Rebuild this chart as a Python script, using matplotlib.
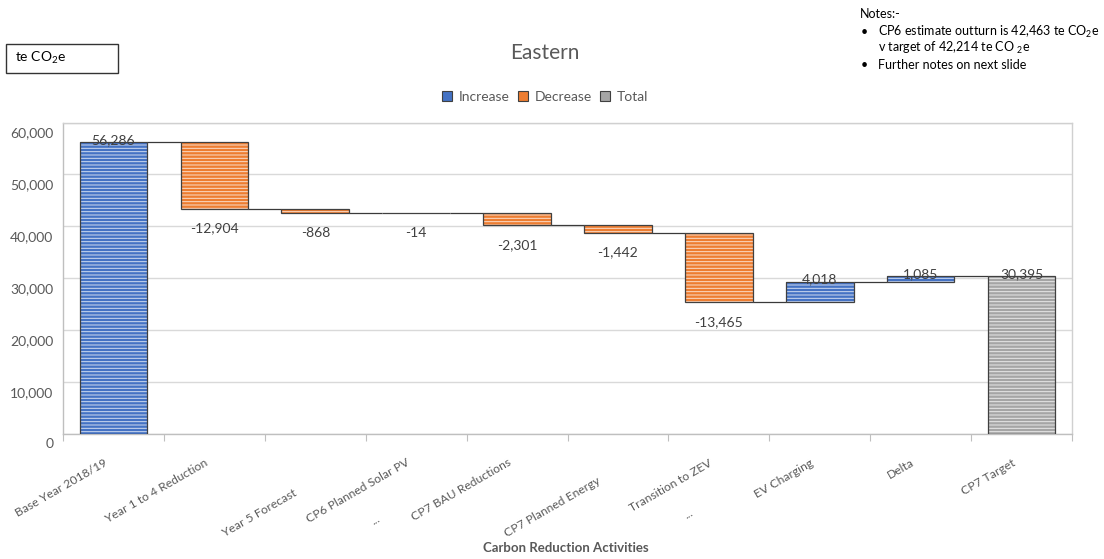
import matplotlib
matplotlib.use("Agg")
import matplotlib.pyplot as plt
from matplotlib.patches import Patch, Rectangle
from matplotlib.transforms import ScaledTranslation
import numpy as np

plt.rcParams['font.family'] = ['Lato', 'DejaVu Sans']
plt.rcParams['mathtext.fontset'] = 'custom'
plt.rcParams['mathtext.rm'] = 'Lato'
plt.rcParams['mathtext.it'] = 'Lato:italic'
plt.rcParams['mathtext.bf'] = 'Lato:bold'
plt.rcParams['hatch.linewidth'] = 0.7

# ---------------- data ----------------
categories = ["Base Year 2018/19", "Year 1 to 4 Reduction", "Year 5 Forecast",
              "CP6 Planned Solar PV\n...", "CP7 BAU Reductions", "CP7 Planned Energy",
              "Transition to ZEV\n...", "EV Charging", "Delta", "CP7 Target"]
base_value = 56286
changes = [-12904, -868, -14, -2301, -1442, -13465, 4018, 1085]
y_ticks = [0, 10000, 20000, 30000, 40000, 50000, 60000]
legend_labels = ["Increase", "Decrease", "Total"]

# ---------------- styles ----------------
fills = {"Increase": "#4472C4", "Decrease": "#ED7D31", "Total": "#A5A5A5"}
outline = "#404040"
text_grey = "#595959"
W = 0.67

W_PX, H_PX = 1104, 559
fig = plt.figure(figsize=(W_PX / 100, H_PX / 100), dpi=100)
ax = fig.add_axes([63 / W_PX, (H_PX - 433.5) / H_PX, (1072 - 63) / W_PX, (433.5 - 122.5) / H_PX])

# waterfall geometry from data
running = [base_value]
for c in changes:
    running.append(running[-1] + c)
total_value = running[-1]

bottoms, heights, kinds = [], [], []
bottoms.append(0); heights.append(base_value); kinds.append("Increase")
for i, c in enumerate(changes):
    prev, new = running[i], running[i + 1]
    bottoms.append(min(prev, new)); heights.append(abs(c))
    kinds.append("Increase" if c > 0 else "Decrease")
bottoms.append(0); heights.append(total_value); kinds.append("Total")

x = np.arange(len(categories))
for xi, b, h, k in zip(x, bottoms, heights, kinds):
    ax.bar(xi, h, W, bottom=b, color=fills[k], edgecolor=(1, 1, 1, 0.75), linewidth=0,
           hatch="-----", zorder=3)
    ax.bar(xi, h, W, bottom=b, fill=False, edgecolor=outline, linewidth=0.9, zorder=4)

# connectors
levels = running + [total_value]
for i in range(len(categories) - 1):
    ax.plot([x[i] + W / 2, x[i + 1] - W / 2], [levels[i], levels[i]],
            color="#3A3A3A", lw=0.9, zorder=2, solid_capstyle="butt")

# data labels
label_vals = [base_value] + changes + [total_value]
for xi, b, h, v in zip(x, bottoms, heights, label_vals):
    if v < 0:
        ax.annotate(f"{v:,}", xy=(xi, b), xytext=(0, -20), textcoords="offset pixels",
                    ha="center", va="center", fontsize=10, color="#404040", zorder=6)
    else:
        ax.annotate(f"{v:,}", xy=(xi, b + h), xytext=(0, 2), textcoords="offset pixels",
                    ha="center", va="center", fontsize=10, color="#404040", zorder=6)

# axes styling
ax.set_xlim(-0.5, len(categories) - 0.5)
ax.set_ylim(0, 60000)
ax.set_yticks(y_ticks)
ax.set_yticklabels([f"{t:,}" for t in y_ticks], fontsize=10, color=text_grey)
ax.tick_params(axis="y", length=0, pad=7)
ax.grid(axis="y", color="#D9D9D9", lw=1, zorder=0)
ax.set_axisbelow(True)
for sp in ax.spines.values():
    sp.set_color("#D0D0D0")
    sp.set_linewidth(1)
ax.spines["bottom"].set_color("#BFBFBF")
ax.spines["left"].set_color("#BFBFBF")
ax.set_xticks(np.arange(-0.5, len(categories)), minor=False)
ax.set_xticklabels([])
ax.tick_params(axis="x", length=5, color="#BFBFBF", direction="out")
for lab in ax.get_yticklabels():
    lab.set_transform(lab.get_transform() + ScaledTranslation(0, -10 / 100, fig.dpi_scale_trans))

# rotated category labels (right end anchored)
nudges = {2: (-22, -53.5), 5: (-21, -41.5)}
for i, name in enumerate(categories):
    dx, dy = nudges.get(i, (-10, -23.5))
    ax.annotate(name, xy=(x[i], 0), xycoords=("data", "axes fraction"),
                xytext=(dx, dy), textcoords="offset pixels",
                ha="right", va="top", rotation=30, rotation_mode="anchor",
                multialignment="center", linespacing=3.5,
                fontsize=8.75, color=text_grey, annotation_clip=False)

fig.text(566 / W_PX, 1 - 548 / H_PX, "Carbon Reduction Activities", ha="center", va="center",
         fontsize=9.5, fontweight="bold", color=text_grey)

# title
fig.text(545 / W_PX, 1 - 53 / H_PX, "Eastern", ha="center", va="center",
         fontsize=15, color=text_grey)

# legend
handles = [Patch(facecolor=fills[k], edgecolor=outline, linewidth=0.8) for k in legend_labels]
fig.legend(handles, legend_labels, loc="center", bbox_to_anchor=(545 / W_PX, 1 - 97 / H_PX),
           ncol=3, frameon=False, fontsize=10, handlelength=0.75, handleheight=0.75,
           handletextpad=0.45, columnspacing=0.6, labelcolor=text_grey)

# unit box
fig.patches.append(Rectangle((6 / W_PX, 1 - 73 / H_PX), 112 / W_PX, 29 / H_PX,
                             transform=fig.transFigure, fill=False, edgecolor="#333333", lw=1))
fig.text(15 / W_PX, 1 - 58 / H_PX, r"te CO$_\mathrm{2}$e", ha="left", va="center",
         fontsize=10, color="#000000")

# notes
fig.text(860 / W_PX, 1 - 14 / H_PX, "Notes:-", ha="left", va="center", fontsize=9)
notes = [(32, True, r"CP6 estimate outturn is 42,463 te CO$_\mathrm{2}$e"),
         (48, False, r"v target of 42,214 te CO $_\mathrm{2}$e"),
         (65, True, "Further notes on next slide")]
for yy, bullet, txt in notes:
    if bullet:
        fig.text(861 / W_PX, 1 - yy / H_PX, "•", ha="left", va="center", fontsize=9)
    fig.text(878 / W_PX, 1 - yy / H_PX, txt, ha="left", va="center", fontsize=9)

fig.savefig("out.png", dpi=100)
